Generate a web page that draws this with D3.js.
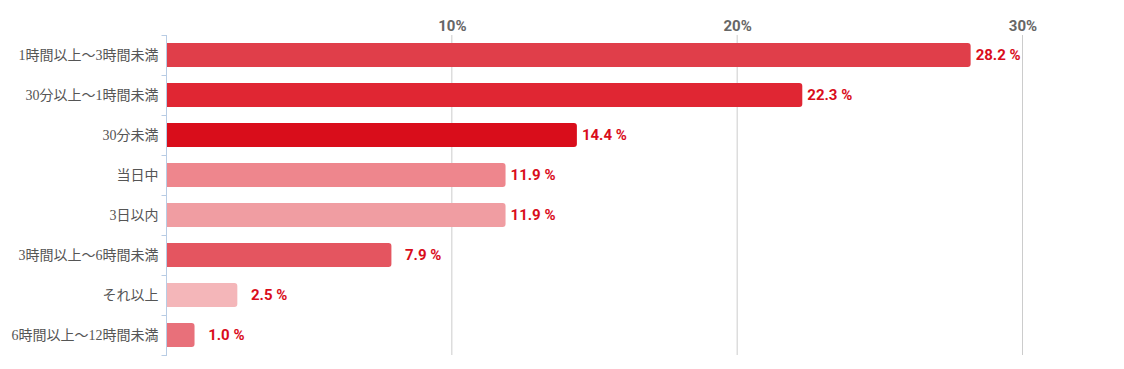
<!DOCTYPE html>
<html><head><meta charset="utf-8">
<script src="https://cdn.jsdelivr.net/npm/d3@7"></script>
<style>body{margin:0;background:#fff}</style>
</head><body>
<svg id="c" width="1124" height="369"></svg>
<script>
const categories = ["1時間以上～3時間未満","30分以上～1時間未満","30分未満","当日中","3日以内","3時間以上～6時間未満","それ以上","6時間以上～12時間未満"];
const values = [28.2, 22.3, 14.4, 11.9, 11.9, 7.9, 2.5, 1.0];
const colors = ["#E03E4A","#E02633","#D90D1B","#EE868D","#F09DA2","#E45560","#F4B6B9","#E8707A"];
const tickValues = [10, 20, 30];

const svg = d3.select("#c");
const x = d3.scaleLinear().domain([0, 30]).range([166, 1022]);
const y = d3.scaleBand().domain(categories).range([35, 355]).paddingInner(0.4).paddingOuter(0.2);
const labelFont = "Roboto, 'Liberation Sans', Arial, sans-serif";

// gridlines
svg.append("g").selectAll("line").data(tickValues).join("line")
  .attr("x1", d => x(d) + 0.5).attr("x2", d => x(d) + 0.5)
  .attr("y1", 35).attr("y2", 355)
  .attr("stroke", "#cccccc").attr("stroke-width", 1);

// top tick labels
svg.append("g").selectAll("text").data(tickValues).join("text")
  .attr("x", d => x(d) + 1).attr("y", 30.5)
  .attr("text-anchor", "middle")
  .attr("font-family", labelFont)
  .attr("font-size", 15).attr("font-weight", "bold").attr("fill", "#666")
  .text(d => d + "%");

// bars
svg.append("g").selectAll("path").data(values).join("path")
  .attr("d", (d, i) => {
    const x0 = x(0), x1 = x(d), y0 = y(categories[i]), h = y.bandwidth(), r = 3;
    return `M${x0},${y0}H${x1 - r}Q${x1},${y0} ${x1},${y0 + r}V${y0 + h - r}Q${x1},${y0 + h} ${x1 - r},${y0 + h}H${x0}Z`;
  })
  .attr("fill", (d, i) => colors[i]);

// value labels
svg.append("g").selectAll("text").data(values).join("text")
  .attr("x", d => x(d) + 50)
  .attr("y", (d, i) => y(categories[i]) + y.bandwidth() / 2)
  .attr("dy", "0.36em")
  .attr("text-anchor", "end")
  .attr("font-family", labelFont)
  .attr("font-size", 15).attr("font-weight", "bold").attr("fill", "#D90D1B")
  .text(d => d.toFixed(1) + " %");

// left axis
const ax = svg.append("g").attr("transform", "translate(166.5,0)");
ax.append("line").attr("x1", 0).attr("x2", 0).attr("y1", 35).attr("y2", 356).attr("stroke", "#b8cce4");
const bandTicks = d3.range(categories.length + 1).map(i => 35 + i * 40);
ax.selectAll("line.t").data(bandTicks).join("line").attr("class", "t")
  .attr("x1", -5).attr("x2", 0).attr("y1", d => d + 0.5).attr("y2", d => d + 0.5)
  .attr("stroke", "#b8cce4");
ax.selectAll("text").data(categories).join("text")
  .attr("x", -8)
  .attr("y", d => y(d) + y.bandwidth() / 2)
  .attr("dy", "0.36em")
  .attr("text-anchor", "end")
  .attr("font-family", "'Liberation Serif', 'Noto Sans CJK JP', serif")
  .attr("font-size", 14).attr("fill", "#555")
  .text(d => d);
</script>
</body></html>
